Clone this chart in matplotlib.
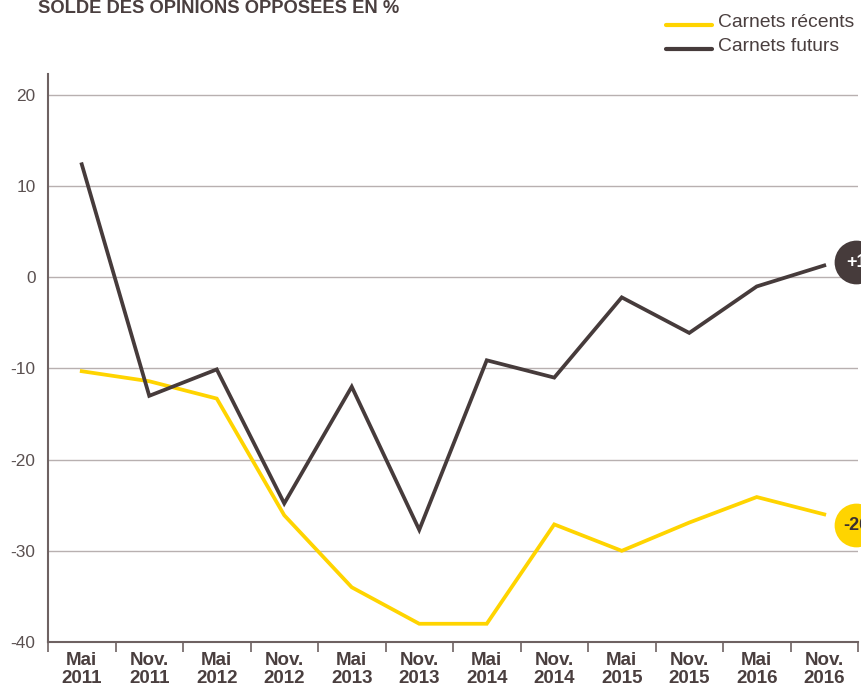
import matplotlib
matplotlib.use("Agg")
import matplotlib.pyplot as plt
import matplotlib.transforms as mtransforms
from matplotlib.lines import Line2D

plt.rcParams["font.family"] = ["Liberation Sans", "DejaVu Sans"]

# Données (solde des opinions, en %)
periodes = ["Mai\n2011", "Nov.\n2011", "Mai\n2012", "Nov.\n2012", "Mai\n2013", "Nov.\n2013",
            "Mai\n2014", "Nov.\n2014", "Mai\n2015", "Nov.\n2015", "Mai\n2016", "Nov.\n2016"]
carnets_recents = [-10.3, -11.4, -13.3, -26.1, -34, -38, -38, -27.1, -30, -26.9, -24.1, -26]
carnets_futurs = [12.4, -13, -10.1, -24.8, -12, -27.7, -9.1, -11, -2.2, -6.1, -1, 1.3]
yticks = [-40, -30, -20, -10, 0, 10, 20]
etiquettes_fin = ["-26", "+1"]

jaune = "#ffd400"
brun = "#463b3b"
gris = "#b8b0b0"

fig = plt.figure(figsize=(8.61, 6.88), dpi=100)
ax = fig.add_axes([48 / 861, 1 - 642 / 688, 810 / 861, (642 - 74) / 688])

x = list(range(len(periodes)))
ax.plot(x, carnets_recents, color=jaune, lw=2.7, solid_joinstyle="miter", zorder=3)
ax.plot(x, carnets_futurs, color=brun, lw=2.7, solid_joinstyle="miter", zorder=4)

ax.set_xlim(-0.5, len(periodes) - 0.5)
ax.set_ylim(-40, 22.3)

# grille horizontale
ax.set_yticks(yticks)
ax.set_yticklabels([str(v) for v in yticks])
ax.yaxis.grid(True, color=gris, lw=1)
ax.set_axisbelow(True)
ax.tick_params(axis="y", length=0, pad=9, labelsize=12.4, labelcolor="#5a5050")

# axe des x : traits entre les périodes, libellés au centre
ax.set_xticks(x)
ax.set_xticklabels(periodes, fontweight="bold", fontsize=13.5, color="#4a3f3f", linespacing=1.08)
ax.set_xticks([i - 0.5 for i in range(len(periodes) + 1)], minor=True)
ax.tick_params(axis="x", which="major", length=0, pad=7.5)
ax.tick_params(axis="x", which="minor", length=7, width=1.2, color="#6e6262")

for s in ["top", "right"]:
    ax.spines[s].set_visible(False)
for s in ["left", "bottom"]:
    ax.spines[s].set_color("#6e6262")
    ax.spines[s].set_linewidth(1.5)

# pastilles de fin de série
derniers = [carnets_recents[-1], carnets_futurs[-1]]
decalages = [(32, -11), (32, 3)]
couleurs_fond = [jaune, brun]
couleurs_txt = ["#3a3030", "white"]
for val, (dx, dy), fond, ctxt, lab in zip(derniers, decalages, couleurs_fond, couleurs_txt, etiquettes_fin):
    tr = ax.transData + mtransforms.ScaledTranslation(dx / 100, dy / 100, fig.dpi_scale_trans)
    ax.plot([x[-1]], [val], marker="o", ms=31.5, color=fond, mec="none",
            transform=tr, clip_on=False, zorder=5)
    ax.text(x[-1], val, lab, transform=tr, ha="center", va="center", fontsize=13,
            fontweight="bold", color=ctxt, clip_on=False, zorder=6)

# titre
fig.text(38 / 861, 1 - 13 / 688, "SOLDE DES OPINIONS OPPOSÉES EN %", fontsize=13.2,
         fontweight="bold", color="#4a3f3f", ha="left", va="baseline")

# légende
for yl, yt, c, lab in [(25, 27, jaune, "Carnets récents"), (49, 51, brun, "Carnets futurs")]:
    fig.add_artist(Line2D([666 / 861, 712 / 861], [1 - yl / 688, 1 - yl / 688],
                          color=c, lw=3, solid_capstyle="round"))
    fig.text(718 / 861, 1 - yt / 688, lab, fontsize=13.9, color="#4a3f3f",
             ha="left", va="baseline")

fig.savefig("out.png", dpi=100)
